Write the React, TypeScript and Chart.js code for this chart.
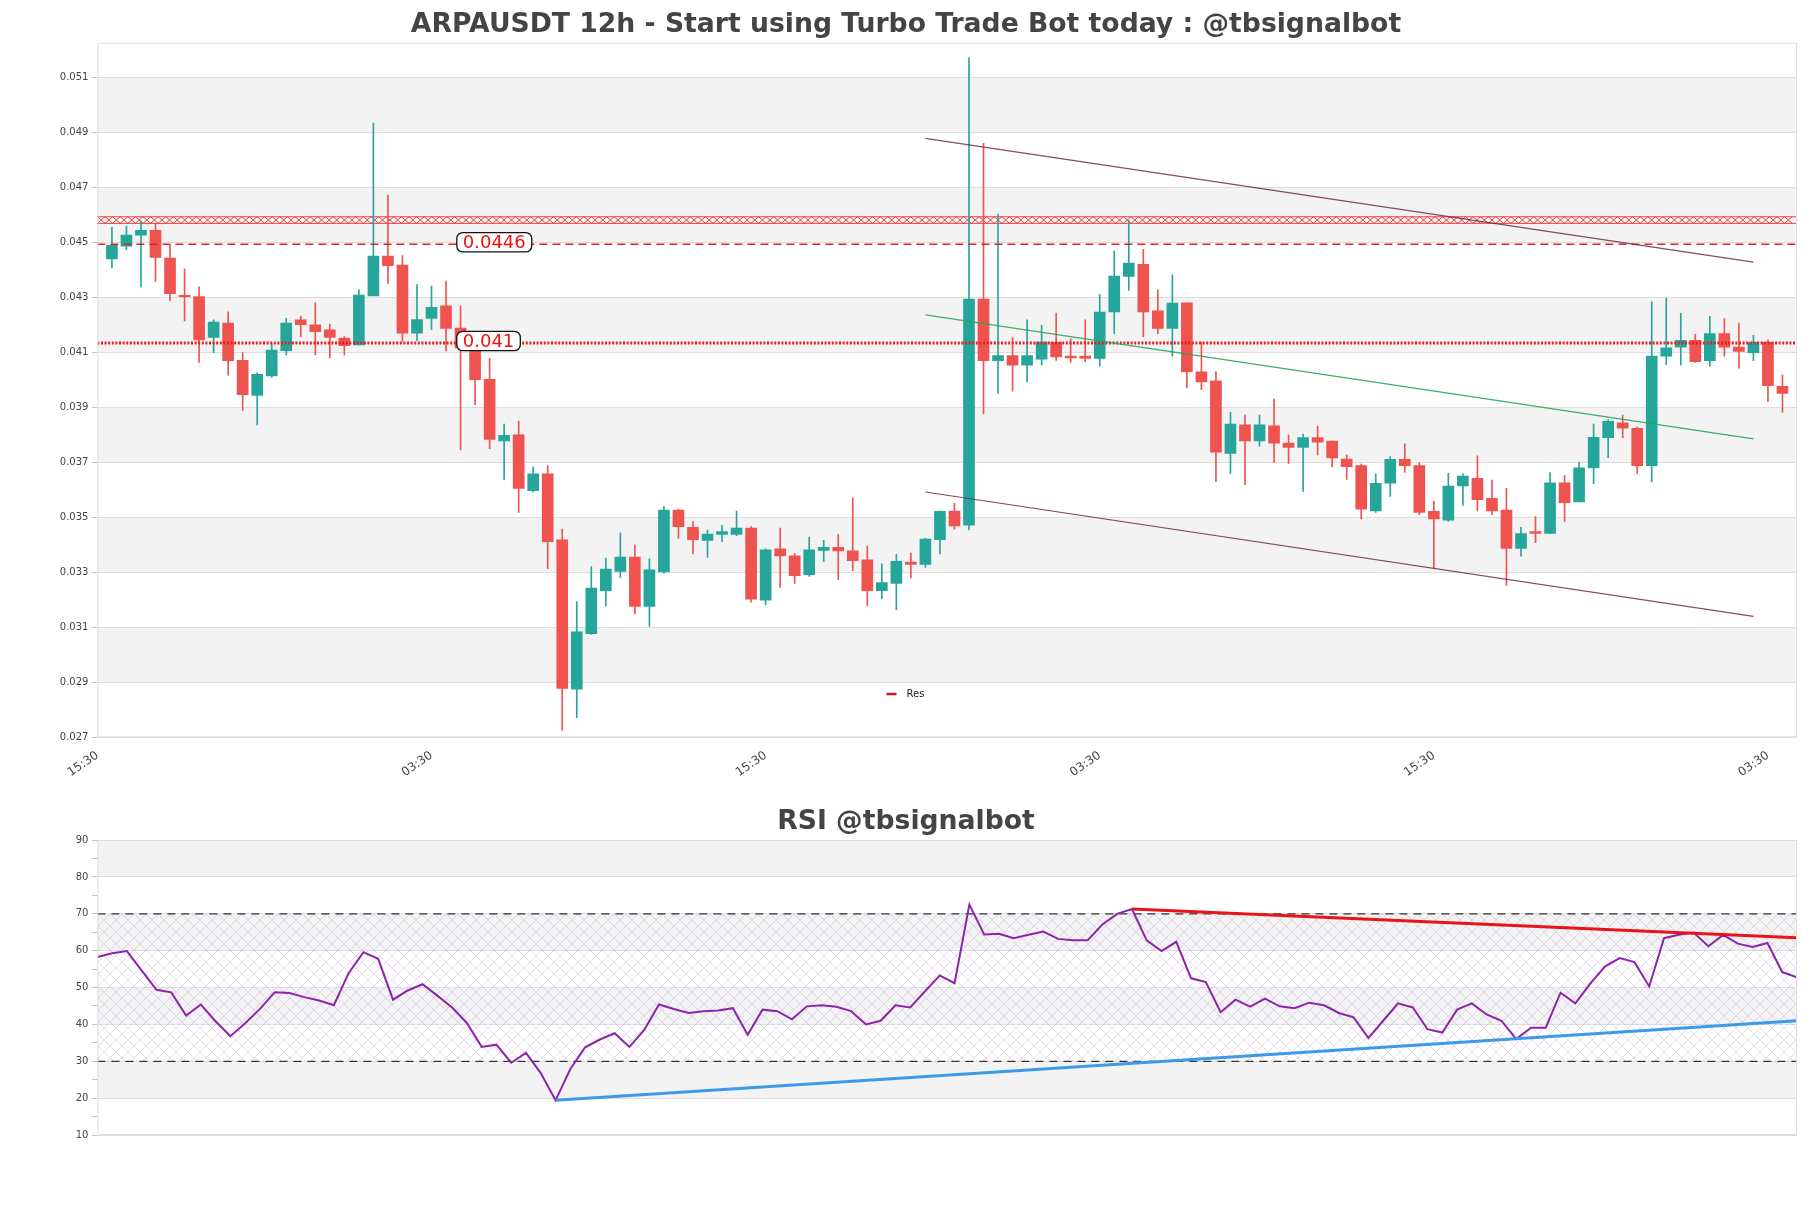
import React, { useEffect, useRef } from 'react';
import { Chart, registerables } from 'chart.js';
Chart.register(...registerables);

// ---------- DATA ----------
const opens = [0.04440,0.04486,0.04526,0.04544,0.04443,0.04307,0.04303,0.04154,0.04206,0.04071,0.03943,0.04014,0.04106,0.04218,0.04200,0.04182,0.04152,0.04127,0.04305,0.04450,0.04417,0.04170,0.04223,0.04269,0.04188,0.04116,0.04002,0.03778,0.03800,0.03597,0.03658,0.03418,0.02875,0.03077,0.03233,0.03303,0.03355,0.03176,0.03301,0.03526,0.03464,0.03416,0.03438,0.03438,0.03461,0.03199,0.03385,0.03360,0.03291,0.03380,0.03391,0.03378,0.03345,0.03233,0.03260,0.03337,0.03329,0.03419,0.03523,0.03471,0.04294,0.04070,0.04088,0.04053,0.04075,0.04136,0.04086,0.04086,0.04078,0.04247,0.04376,0.04420,0.04251,0.04187,0.04280,0.04029,0.03996,0.03732,0.03836,0.03778,0.03833,0.03770,0.03754,0.03790,0.03777,0.03712,0.03688,0.03523,0.03624,0.03711,0.03688,0.03522,0.03490,0.03614,0.03642,0.03569,0.03526,0.03387,0.03448,0.03441,0.03625,0.03556,0.03680,0.03790,0.03844,0.03824,0.03688,0.04086,0.04119,0.04144,0.04070,0.04168,0.04119,0.04099,0.04136,0.03976];
const highs = [0.04555,0.04559,0.04577,0.04568,0.04491,0.04404,0.04338,0.04218,0.04247,0.04099,0.04025,0.04132,0.04224,0.04231,0.04280,0.04203,0.04157,0.04327,0.04934,0.04672,0.04452,0.04346,0.04341,0.04359,0.04269,0.04129,0.04078,0.03839,0.03849,0.03683,0.03688,0.03457,0.03194,0.03321,0.03352,0.03444,0.03400,0.03349,0.03540,0.03530,0.03485,0.03454,0.03471,0.03523,0.03466,0.03385,0.03461,0.03368,0.03428,0.03416,0.03437,0.03571,0.03395,0.03331,0.03365,0.03370,0.03424,0.03523,0.03551,0.05172,0.04860,0.04603,0.04154,0.04218,0.04198,0.04243,0.04149,0.04218,0.04310,0.04468,0.04580,0.04475,0.04327,0.04382,0.04280,0.04136,0.04030,0.03882,0.03872,0.03872,0.03931,0.03800,0.03803,0.03831,0.03777,0.03726,0.03694,0.03658,0.03721,0.03767,0.03699,0.03559,0.03660,0.03658,0.03724,0.03635,0.03605,0.03464,0.03503,0.03663,0.03652,0.03701,0.03839,0.03855,0.03872,0.03828,0.04284,0.04297,0.04243,0.04165,0.04231,0.04223,0.04206,0.04162,0.04145,0.04017];
const lows = [0.04407,0.04473,0.04338,0.04358,0.04289,0.04214,0.04063,0.04099,0.04017,0.03889,0.03836,0.04009,0.04091,0.04157,0.04091,0.04080,0.04091,0.04127,0.04305,0.04351,0.04140,0.04142,0.04182,0.04104,0.03745,0.03910,0.03750,0.03638,0.03518,0.03592,0.03313,0.02725,0.02771,0.03074,0.03178,0.03281,0.03150,0.03103,0.03296,0.03424,0.03367,0.03354,0.03411,0.03433,0.03191,0.03181,0.03245,0.03260,0.03285,0.03339,0.03273,0.03306,0.03178,0.03204,0.03164,0.03280,0.03318,0.03367,0.03457,0.03454,0.03877,0.03951,0.03959,0.03992,0.04053,0.04071,0.04063,0.04066,0.04050,0.04168,0.04325,0.04157,0.04168,0.04086,0.03971,0.03964,0.03630,0.03660,0.03619,0.03759,0.03699,0.03696,0.03594,0.03727,0.03683,0.03638,0.03494,0.03518,0.03576,0.03663,0.03510,0.03313,0.03485,0.03543,0.03523,0.03510,0.03252,0.03359,0.03408,0.03441,0.03485,0.03556,0.03622,0.03717,0.03790,0.03660,0.03630,0.04055,0.04053,0.04063,0.04050,0.04086,0.04042,0.04070,0.03921,0.03882];
const closes = [0.04489,0.04526,0.04544,0.04445,0.04313,0.04302,0.04145,0.04210,0.04070,0.03946,0.04020,0.04108,0.04206,0.04201,0.04175,0.04154,0.04124,0.04308,0.04450,0.04415,0.04170,0.04219,0.04264,0.04187,0.04116,0.04001,0.03783,0.03798,0.03605,0.03658,0.03411,0.02878,0.03084,0.03243,0.03312,0.03355,0.03176,0.03309,0.03526,0.03466,0.03419,0.03439,0.03448,0.03461,0.03202,0.03382,0.03360,0.03288,0.03382,0.03391,0.03378,0.03342,0.03233,0.03263,0.03340,0.03329,0.03421,0.03522,0.03469,0.04294,0.04070,0.04088,0.04053,0.04088,0.04137,0.04083,0.04080,0.04078,0.04246,0.04377,0.04425,0.04247,0.04187,0.04279,0.04029,0.03992,0.03737,0.03839,0.03778,0.03836,0.03770,0.03754,0.03790,0.03773,0.03716,0.03684,0.03530,0.03624,0.03711,0.03688,0.03518,0.03494,0.03614,0.03650,0.03564,0.03523,0.03387,0.03441,0.03441,0.03625,0.03553,0.03680,0.03791,0.03849,0.03824,0.03688,0.04086,0.04116,0.04144,0.04066,0.04168,0.04119,0.04103,0.04136,0.03979,0.03951];

const rsiValues = [58.3,59.3,59.9,54.6,49.4,48.7,42.4,45.4,40.8,36.8,40.3,44.2,48.7,48.5,47.4,46.5,45.2,53.9,59.6,57.8,46.7,49.2,50.9,47.8,44.6,40.4,33.9,34.5,29.6,32.3,26.8,19.4,27.9,33.8,35.9,37.6,33.9,38.5,45.4,44.2,43.1,43.6,43.8,44.4,37.2,44.0,43.6,41.4,44.9,45.2,44.8,43.6,40.0,41.0,45.2,44.6,49.0,53.3,51.2,72.5,64.4,64.6,63.4,64.3,65.2,63.2,62.8,62.8,67.1,70.0,71.3,62.8,59.9,62.4,52.5,51.5,43.3,46.7,44.8,47.0,44.9,44.4,45.9,45.2,43.1,41.9,36.3,41.0,45.7,44.6,38.7,37.8,44.0,45.7,42.7,41.0,36.0,39.1,39.1,48.6,45.7,51.0,55.7,58.0,56.9,50.3,63.4,64.3,64.9,61.2,64.3,61.9,61.0,62.1,54.2,52.8];

const priceTicks = [0.027,0.029,0.031,0.033,0.035,0.037,0.039,0.041,0.043,0.045,0.047,0.049,0.051];
const priceBands = [[0.049,0.051],[0.045,0.047],[0.041,0.043],[0.037,0.039],[0.033,0.035],[0.029,0.031]];
const xTickIndex = [-1,22,45,68,91,114];
const xTickLabels = ['15:30','03:30','15:30','03:30','15:30','03:30'];

const channelUpper = [[56,0.04878],[113,0.04428]];
const channelMid = [[56,0.04236],[113,0.03785]];
const channelLower = [[56,0.03592],[113,0.03140]];

const resBandLevel = 0.04581;
const resDashedLevel = 0.04493;
const resDashedLabel = '0.0446';
const resDottedLevel = 0.04134;
const resDottedLabel = '0.041';

const rsiBands = [[80,90],[60,70],[40,50],[20,30]];
const rsiUpperLevel = 70;
const rsiLowerLevel = 30;
const rsiUpperTrend = [[70,71.3],[115,63.5]];
const rsiLowerTrend = [[31,19.4],[115,41.0]];

const TITLE = 'ARPAUSDT 12h - Start using Turbo Trade Bot today : @tbsignalbot';
const RSI_TITLE = 'RSI @tbsignalbot';

const GREEN = '#26a69a';
const RED = '#ef5350';
const FONT = 'DejaVu Sans';

const mainPlugin = {
  id: 'mainDecor',
  beforeDraw(chart: any) {
    const { ctx, chartArea: a, scales } = chart;
    const y = scales.y;
    ctx.save();
    ctx.fillStyle = '#f3f3f3';
    for (const [lo, hi] of priceBands) {
      const y1 = y.getPixelForValue(hi), y2 = y.getPixelForValue(lo);
      ctx.fillRect(a.left, y1, a.right - a.left, y2 - y1);
    }
    ctx.restore();
  },
  beforeDatasetsDraw(chart: any) {
    const { ctx, chartArea: a, scales } = chart;
    const yc = scales.y.getPixelForValue(resBandLevel);
    const h = 3.3;
    ctx.save();
    ctx.strokeStyle = '#e8302f';
    ctx.lineWidth = 0.9;
    ctx.beginPath();
    ctx.moveTo(a.left, yc - h); ctx.lineTo(a.right, yc - h);
    ctx.moveTo(a.left, yc + h); ctx.lineTo(a.right, yc + h);
    const w = 7.6;
    for (let x = a.left; x + w <= a.right + 0.1; x += w) {
      ctx.moveTo(x, yc - h); ctx.lineTo(x + w, yc + h);
      ctx.moveTo(x + w, yc - h); ctx.lineTo(x, yc + h);
    }
    ctx.stroke();
    ctx.restore();
  },
  afterDatasetsDraw(chart: any) {
    const { ctx, scales } = chart;
    const drawLabel = (level: number, text: string) => {
      const x0 = scales.x.getPixelForValue(23.74);
      const yc = scales.y.getPixelForValue(level) - 2;
      ctx.save();
      ctx.font = `18px "${FONT}"`;
      const tw = ctx.measureText(text).width;
      const bw = tw + 12, bh = 19.4, r = 6;
      ctx.beginPath();
      ctx.roundRect(x0, yc - bh / 2, bw, bh, r);
      ctx.fillStyle = '#ffffff';
      ctx.fill();
      ctx.lineWidth = 1.3;
      ctx.strokeStyle = '#111';
      ctx.stroke();
      ctx.fillStyle = '#f01010';
      ctx.textBaseline = 'middle';
      ctx.textAlign = 'left';
      ctx.fillText(text, x0 + 6, yc + 1);
      ctx.restore();
    };
    drawLabel(resDashedLevel, resDashedLabel);
    drawLabel(resDottedLevel, resDottedLabel);
  },
  afterDraw(chart: any) {
    const { ctx, chartArea: a } = chart;
    ctx.save();
    ctx.strokeStyle = '#dddddd';
    ctx.lineWidth = 1;
    ctx.strokeRect(a.left + 0.5, a.top + 0.5, a.right - a.left - 1, a.bottom - a.top - 1);
    // legend "Res"
    const cx = chart.width / 2;
    const ly = a.bottom - 43.3;
    ctx.strokeStyle = '#d0142c';
    ctx.lineWidth = 2.5;
    ctx.beginPath();
    ctx.moveTo(cx - 19, ly); ctx.lineTo(cx - 9, ly);
    ctx.stroke();
    ctx.fillStyle = '#222';
    ctx.font = `10px "${FONT}"`;
    ctx.textBaseline = 'middle';
    ctx.fillText('Res', cx + 1, ly);
    ctx.restore();
  },
};

const rsiPlugin = {
  id: 'rsiDecor',
  beforeDraw(chart: any) {
    const { ctx, chartArea: a, scales } = chart;
    const y = scales.y;
    ctx.save();
    ctx.fillStyle = '#f3f3f3';
    for (const [lo, hi] of rsiBands) {
      const y1 = y.getPixelForValue(hi), y2 = y.getPixelForValue(lo);
      ctx.fillRect(a.left, y1, a.right - a.left, y2 - y1);
    }
    ctx.restore();
  },
  afterDraw(chart: any) {
    const { ctx, chartArea: a } = chart;
    ctx.save();
    ctx.strokeStyle = '#dddddd';
    ctx.lineWidth = 1;
    ctx.strokeRect(a.left + 0.5, a.top + 0.5, a.right - a.left - 1, a.bottom - a.top - 1);
    ctx.restore();
  },
};

export default function App() {
  const mainRef = useRef<HTMLCanvasElement>(null);
  const rsiRef = useRef<HTMLCanvasElement>(null);

  useEffect(() => {
    const idx = opens.map((_, i) => i);
    const colors = idx.map(i => (closes[i] >= opens[i] ? GREEN : RED));
    const seg = (pts: number[][]) => pts.map(([x, y]) => ({ x, y }));

    const main = new Chart(mainRef.current as HTMLCanvasElement, {
      type: 'bar',
      data: {
        datasets: [
          {
            type: 'bar', label: 'wick',
            data: idx.map(i => ({ x: i, y: [lows[i], highs[i]] })) as any,
            backgroundColor: colors, barThickness: 1, grouped: false, order: 3, borderWidth: 0,
          } as any,
          {
            type: 'bar', label: 'body',
            data: idx.map(i => ({ x: i, y: [opens[i], closes[i]] })) as any,
            backgroundColor: colors, barThickness: 11, grouped: false, order: 2, borderWidth: 0, minBarLength: 1.5,
          } as any,
          { type: 'line', label: 'upper', data: seg(channelUpper), borderColor: 'rgba(115,40,75,0.85)', borderWidth: 1.2, pointRadius: 0, order: 1 } as any,
          { type: 'line', label: 'mid', data: seg(channelMid), borderColor: 'rgba(40,165,90,0.9)', borderWidth: 1.2, pointRadius: 0, order: 1 } as any,
          { type: 'line', label: 'lower', data: seg(channelLower), borderColor: 'rgba(115,40,75,0.85)', borderWidth: 1.2, pointRadius: 0, order: 1 } as any,
          { type: 'line', label: 'Res', data: [{ x: -1, y: resDashedLevel }, { x: 116, y: resDashedLevel }], borderColor: '#e4201e', borderDash: [8, 5], borderWidth: 1.5, pointRadius: 0, order: 1 } as any,
          { type: 'line', label: 'Res2', data: [{ x: -1, y: resDottedLevel }, { x: 116, y: resDottedLevel }], borderColor: '#e4201e', borderDash: [2, 1.6], borderWidth: 3, pointRadius: 0, order: 1 } as any,
        ],
      },
      options: {
        animation: false,
        responsive: true,
        maintainAspectRatio: false,
        layout: { padding: { left: 7, right: 6, top: 0, bottom: 0 } },
        plugins: {
          legend: { display: false },
          tooltip: { enabled: false },
          title: {
            display: true, text: TITLE, color: '#444',
            font: { family: FONT, size: 26.65, weight: 'bold', lineHeight: 1 },
            padding: { top: 3.8, bottom: 4.25 },
          },
        },
        scales: {
          x: {
            type: 'linear', min: -1, max: 116, offset: false,
            grid: { display: false }, border: { display: false },
            afterBuildTicks: (s: any) => { s.ticks = xTickIndex.map(v => ({ value: v })); },
            afterFit: (s: any) => { s.height = 50.7; },
            ticks: {
              autoSkip: false, minRotation: 35, maxRotation: 35, padding: 3,
              color: '#444', font: { family: FONT, size: 12 },
              callback: (v: any) => { const k = xTickIndex.indexOf(Number(v)); return k >= 0 ? xTickLabels[k] : ''; },
            },
          },
          y: {
            type: 'linear', min: 0.027, max: 0.05226,
            afterBuildTicks: (s: any) => { s.ticks = priceTicks.map(v => ({ value: v })); },
            afterFit: (s: any) => { s.width = 82.4; },
            grid: { color: '#dddddd', tickLength: 5, tickColor: '#bbbbbb' },
            border: { display: false },
            ticks: {
              padding: 4, color: '#444', font: { family: FONT, size: 10 },
              callback: (v: any) => Number(v).toFixed(3),
            },
          },
        },
      } as any,
      plugins: [mainPlugin],
    });

    const rctx = (rsiRef.current as HTMLCanvasElement).getContext('2d') as CanvasRenderingContext2D;
    const pc = document.createElement('canvas');
    pc.width = 12; pc.height = 12;
    const g = pc.getContext('2d') as CanvasRenderingContext2D;
    g.strokeStyle = 'rgba(180,150,205,0.36)';
    g.lineWidth = 0.9;
    g.beginPath();
    g.moveTo(0, 0); g.lineTo(12, 12);
    g.moveTo(12, 0); g.lineTo(0, 12);
    g.stroke();
    const hatch = rctx.createPattern(pc, 'repeat');

    const rsi = new Chart(rsiRef.current as HTMLCanvasElement, {
      type: 'line',
      data: {
        datasets: [
          {
            label: 'ob', data: [{ x: 0, y: rsiUpperLevel }, { x: 115, y: rsiUpperLevel }],
            borderColor: '#333', borderDash: [8, 6], borderWidth: 1.3, pointRadius: 0,
            fill: { value: rsiLowerLevel }, backgroundColor: hatch, order: 5,
          } as any,
          {
            label: 'os', data: [{ x: 0, y: rsiLowerLevel }, { x: 115, y: rsiLowerLevel }],
            borderColor: '#333', borderDash: [8, 6], borderWidth: 1.3, pointRadius: 0, fill: false, order: 4,
          } as any,
          {
            label: 'RSI', data: rsiValues.map((v, i) => ({ x: i, y: v })),
            borderColor: '#8e24aa', borderWidth: 2, pointRadius: 0, fill: false, tension: 0, order: 3,
          } as any,
          {
            label: 'down', data: seg(rsiUpperTrend), borderColor: '#e8141c', borderWidth: 3, pointRadius: 0, fill: false, order: 2,
          } as any,
          {
            label: 'up', data: seg(rsiLowerTrend), borderColor: '#3d9ae8', borderWidth: 3, pointRadius: 0, fill: false, order: 2,
          } as any,
        ],
      },
      options: {
        animation: false,
        responsive: true,
        maintainAspectRatio: false,
        layout: { padding: { left: 7, right: 6, top: 0, bottom: 53 } },
        plugins: {
          legend: { display: false },
          tooltip: { enabled: false },
          title: {
            display: true, text: RSI_TITLE, color: '#444',
            font: { family: FONT, size: 26.65, weight: 'bold', lineHeight: 1 },
            padding: { top: 20.4, bottom: 5.05 },
          },
        },
        scales: {
          x: { type: 'linear', min: 0, max: 115, display: false, offset: false },
          y: {
            type: 'linear', min: 10, max: 90,
            afterFit: (s: any) => { s.width = 82.4; },
            border: { display: false },
            grid: {
              color: (c: any) => (c.tick && c.tick.value % 10 === 0 ? '#dddddd' : 'rgba(0,0,0,0)'),
              tickLength: 5, tickColor: '#bbbbbb',
            },
            ticks: {
              stepSize: 5, padding: 4, color: '#444', font: { family: FONT, size: 10 },
              callback: (v: any) => (Number(v) % 10 === 0 ? String(v) : ''),
            },
          },
        },
      } as any,
      plugins: [rsiPlugin],
    });

    return () => { main.destroy(); rsi.destroy(); };
  }, []);

  return (
    <div style={{ width: '100%' }}>
      <div style={{ position: 'relative', width: '100%', height: 780 }}>
        <canvas ref={mainRef} />
      </div>
      <div style={{ position: 'relative', width: '100%', height: 400 }}>
        <canvas ref={rsiRef} />
      </div>
    </div>
  );
}
